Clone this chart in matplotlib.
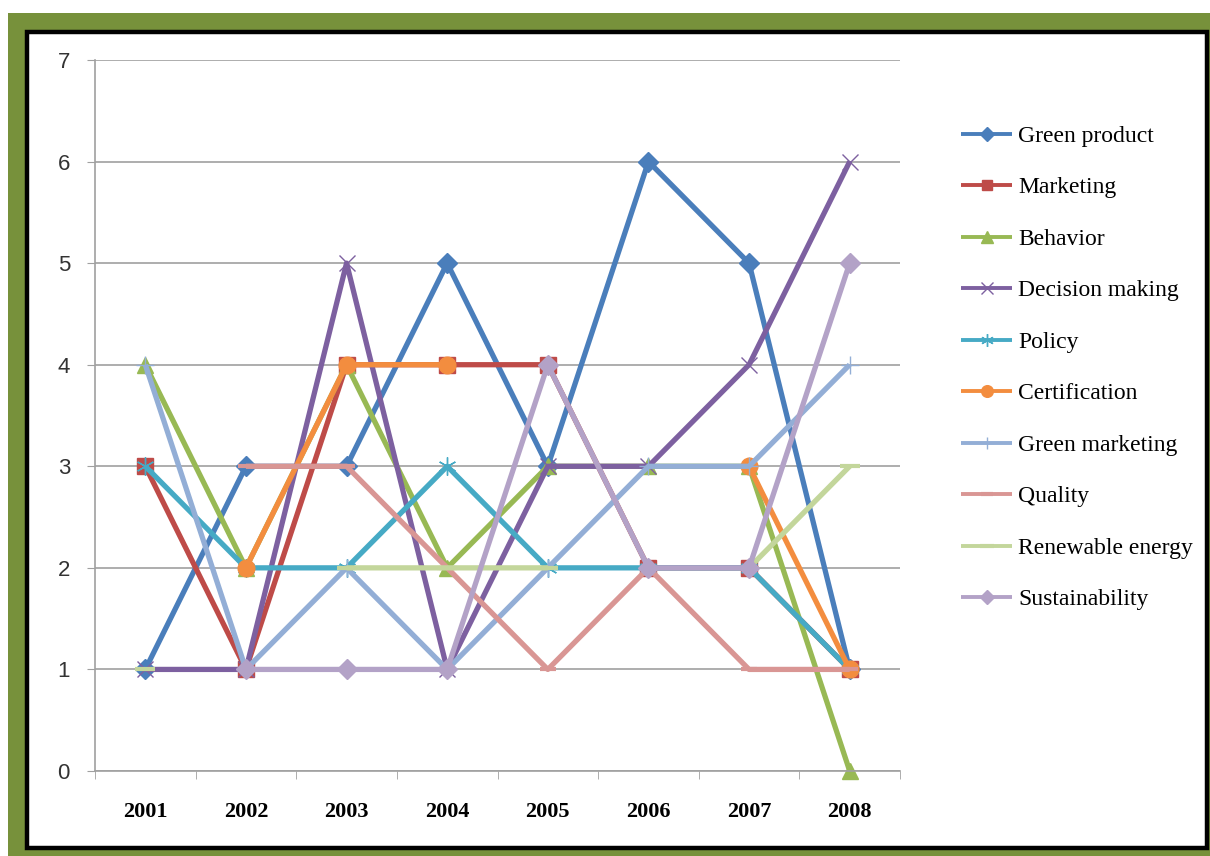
import numpy as np
import matplotlib
matplotlib.use("Agg")
import matplotlib.pyplot as plt
from matplotlib.patches import Rectangle

nan = np.nan
years = ["2001", "2002", "2003", "2004", "2005", "2006", "2007", "2008"]

green_product   = [1, 3, 3, 5, 3, 6, 5, 1]
marketing       = [3, 1, 4, 4, 4, 2, 2, 1]
behavior        = [4, 2, 4, 2, 3, 3, 3, 0]
decision_making = [1, 1, 5, 1, 3, 3, 4, 6]
policy          = [3, 2, 2, 3, 2, 2, 2, 1]
certification   = [nan, 2, 4, 4, nan, nan, 3, 1]
green_marketing = [4, 1, 2, 1, 2, 3, 3, 4]
quality         = [nan, 3, 3, 2, 1, 2, 1, 1]
renewable       = [1, nan, 2, 2, 2, nan, 2, 3]
sustainability  = [nan, 1, 1, 1, 4, 2, 2, 5]

series = [
    ("Green product", green_product, "#4A7EBB", "D", 10),
    ("Marketing", marketing, "#BE4B48", "s", 11),
    ("Behavior", behavior, "#98B954", "^", 12),
    ("Decision making", decision_making, "#7D60A0", "x", 12),
    ("Policy", policy, "#46AAC5", (6, 2, 0), 13),
    ("Certification", certification, "#F38D3F", "o", 12),
    ("Green marketing", green_marketing, "#93AED6", "+", 13),
    ("Quality", quality, "#D99694", "_", 12),
    ("Renewable energy", renewable, "#C3D69B", "_", 14),
    ("Sustainability", sustainability, "#B3A2C7", "D", 10),
]

W, H = 1210, 856
fig = plt.figure(figsize=(W / 100, H / 100), dpi=100)
fig.patch.set_facecolor("white")

def fx(px):
    return px / W

def fy(py):
    return 1 - py / H

# olive background and black framed white panel
fig.patches.append(Rectangle((fx(8), 0), fx(W - 8), 1 - 13 / H, transform=fig.transFigure,
                             facecolor="#77913B", edgecolor="none", zorder=-10))
fig.patches.append(Rectangle((fx(27), fy(848)), fx(1207 - 27), (848 - 32) / H, transform=fig.transFigure,
                             facecolor="white", edgecolor="black", linewidth=3.2, zorder=-9))

ax = fig.add_axes([fx(95), fy(771), fx(900 - 95), (771 - 60) / H])
ax.set_facecolor("none")
x = np.arange(len(years))

for name, vals, col, mk, ms in series:
    v = np.array(vals, dtype=float)
    mew = 1.0
    if mk == "_":
        mew = 3.0
    ax.plot(x, v, color=col, linewidth=3.8, marker=mk, markersize=ms,
            markerfacecolor=col, markeredgecolor=col, markeredgewidth=mew,
            label=name, solid_capstyle="butt", solid_joinstyle="round", clip_on=False)

ax.set_xlim(-0.5, len(years) - 0.5)
ax.set_ylim(0, 7)
ax.set_yticks(range(0, 8))
ax.set_xticks(x)
ax.set_xticklabels(years, fontfamily="Liberation Serif", fontweight="bold", fontsize=16)
ax.set_xticks(np.arange(-0.5, len(years)), minor=True)
ax.tick_params(axis="x", which="major", length=0, pad=22)
ax.tick_params(axis="x", which="minor", length=6, color="#A0A0A0", direction="out")
ax.tick_params(axis="y", length=6, color="#A0A0A0", direction="out", pad=12, labelsize=16)
for lab in ax.get_yticklabels():
    lab.set_fontfamily("Liberation Sans")
    lab.set_color("#333333")
ax.grid(axis="y", color="#A0A0A0", linewidth=1.2)
ax.set_axisbelow(True)
for s in ("top", "right"):
    ax.spines[s].set_visible(False)
for s in ("left", "bottom"):
    ax.spines[s].set_color("#A0A0A0")
    ax.spines[s].set_linewidth(1.2)

leg = fig.legend(loc="upper left", bbox_to_anchor=(fx(940), fy(104)), frameon=False,
                 prop={"family": "Liberation Serif", "size": 17},
                 handlelength=2.15, handletextpad=0.25, labelspacing=1.27, markerscale=0.7)
for line in leg.get_lines():
    line.set_linewidth(2.8)

fig.savefig("out.png", dpi=100, facecolor=fig.get_facecolor())
